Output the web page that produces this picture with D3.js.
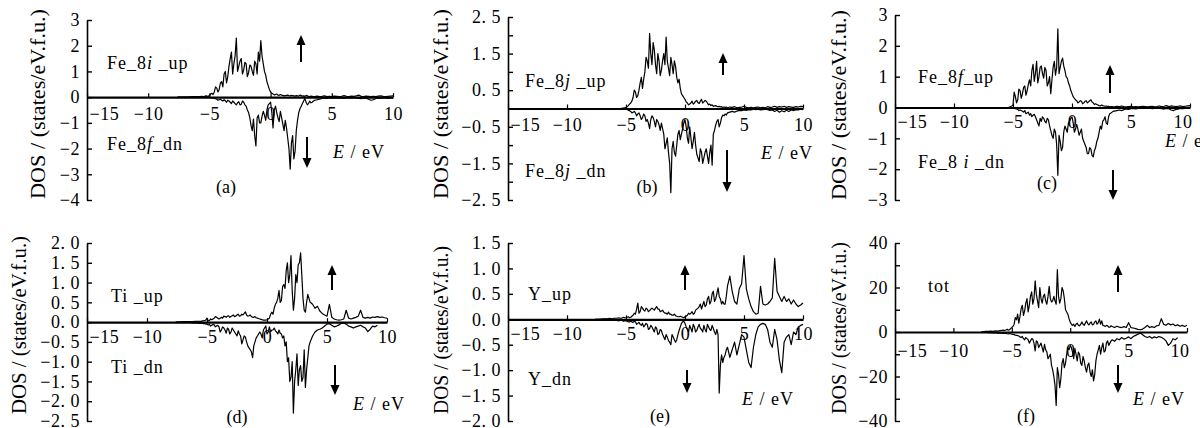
<!DOCTYPE html>
<html>
<head>
<meta charset="utf-8">
<script src="https://cdn.jsdelivr.net/npm/d3@7"></script>
<style>
body { margin: 0; background: #fff; }
svg text { font-family: "Liberation Serif", "Times New Roman", "DejaVu Serif", serif; fill: #000; }
</style>
</head>
<body>
<svg id="chart" width="1200" height="428" font-family="Liberation Serif, Times New Roman, serif"></svg>
<script>
// energy grid (eV): 0.2 steps outside, 0.1 steps in the busy band
const energy = [
  -7.6,-7.4,-7.2,-7,-6.8,-6.6,-6.4,-6.2,-6,-5.8,-5.6,
  -5.5,-5.4,-5.3,-5.2,-5.1,-5,-4.9,-4.8,-4.7,-4.6,
  -4.5,-4.4,-4.3,-4.2,-4.1,-4,-3.9,-3.8,-3.7,-3.6,
  -3.5,-3.4,-3.3,-3.2,-3.1,-3,-2.9,-2.8,-2.7,-2.6,
  -2.5,-2.4,-2.3,-2.2,-2.1,-2,-1.9,-1.8,-1.7,-1.6,
  -1.5,-1.4,-1.3,-1.2,-1.1,-1,-0.9,-0.8,-0.7,-0.6,
  -0.5,-0.4,-0.3,-0.2,-0.1,0,0.1,0.2,0.3,0.4,
  0.5,0.6,0.7,0.8,0.9,1,1.1,1.2,1.3,1.4,
  1.5,1.6,1.7,1.8,1.9,2,2.1,2.2,2.3,2.4,
  2.5,2.6,2.7,2.8,2.9,3,3.1,3.2,3.3,3.4,
  3.5,3.6,3.8,4,4.2,
  4.4,4.6,4.8,5,5.2,5.4,5.6,5.8,6,6.2,
  6.4,6.6,6.8,7,7.2,7.4,7.6,7.8,8,8.2,
  8.4,8.6,8.8,9,9.2,9.4,9.6,9.8,10
];

// (a)
const fe8iUp = [
  0,0,0,0,0,0.01,0.02,0.02,0.02,0.02,0.03,
  0.02,0.03,0.05,0.04,0.03,0.06,0.12,0.15,0.1,0.2,
  0.4,0.35,0.2,0.3,0.55,0.6,0.4,0.9,1.0,0.55,
  0.8,1.2,1.5,1.75,0.9,1.3,1.6,2.3,1.0,1.2,
  1.4,1.5,0.9,1.05,1.35,1.3,0.8,0.95,1.25,1.2,
  1.0,0.85,1.4,1.3,0.9,1.75,1.4,2.2,1.6,1.3,
  1.0,0.85,0.6,0.45,0.3,0.2,0.15,0.12,0.09,0.1,
  0.12,0.08,0.07,0.1,0.08,0.07,0.05,0.06,0.07,0.08,
  0.06,0.05,0.07,0.06,0.05,0.04,0.06,0.05,0.04,0.08,
  0.06,0.04,0.05,0.03,0.07,0.05,0.03,0.02,0.04,0.03,
  0.02,0.02,0.04,0.02,0.03,
  0.05,0.02,0.03,0.02,0.04,0.03,0.02,0.03,0.06,0.03,
  0.02,0.04,0.03,0.05,0.08,0.03,0.02,0.04,0.03,0.02,
  0.03,0.02,0.04,0.05,0.03,0.02,0.03,0.04,0.05
];
const fe8fDn = [
  0,0,0,0,0,0,0,0,0,0,0,
  0,0,0,0,0,-0.01,-0.02,-0.03,-0.04,-0.05,
  -0.06,-0.08,-0.12,-0.1,-0.08,-0.12,-0.15,-0.1,-0.14,-0.2,
  -0.12,-0.15,-0.2,-0.25,-0.15,-0.2,-0.25,-0.3,-0.22,-0.18,
  -0.3,-0.28,-0.15,-0.2,-0.3,-0.35,-0.5,-0.6,-0.8,-1.1,
  -1.3,-0.85,-1.5,-1.9,-0.8,-0.7,-1.0,-1.0,-0.75,-0.55,
  -0.7,-0.9,-0.5,-0.3,-0.25,-0.2,-0.6,-1.2,-0.5,-0.35,
  -0.6,-0.8,-0.95,-0.55,-0.8,-1.05,-1.3,-0.9,-1.2,-1.6,
  -2.0,-2.8,-1.8,-1.5,-2.4,-2.1,-1.3,-0.9,-0.6,-0.45,
  -0.35,-0.25,-0.15,-0.05,-0.2,-0.3,-0.25,-0.15,-0.22,-0.2,
  -0.15,-0.12,-0.1,-0.08,-0.05,
  -0.03,-0.05,-0.02,-0.04,-0.03,-0.02,-0.04,-0.03,-0.05,-0.02,
  -0.03,-0.04,-0.02,-0.03,-0.05,-0.06,-0.03,-0.04,-0.08,-0.12,
  -0.1,-0.05,-0.03,-0.04,-0.02,-0.03,-0.05,-0.02,-0.03
];

// (b)
const fe8jUp = [
  0,0,0,0,0,0,0,0,0,0,0,
  0,0,0.01,0.01,0.02,0.03,0.05,0.08,0.12,0.15,
  0.2,0.3,0.5,0.45,0.3,0.35,0.5,0.7,0.85,0.55,
  0.8,1.0,1.4,1.3,1.1,2.05,1.5,1.2,1.8,1.6,
  1.2,0.95,1.5,1.3,0.9,1.05,1.3,1.5,1.2,1.95,
  1.3,1.1,0.9,1.4,1.2,0.95,1.3,1.15,0.85,0.7,
  0.8,0.55,0.4,0.35,0.3,0.25,0.18,0.15,0.1,0.12,
  0.15,0.2,0.12,0.15,0.2,0.22,0.16,0.14,0.2,0.25,
  0.15,0.18,0.22,0.2,0.15,0.1,0.12,0.08,0.1,0.06,
  0.07,0.08,0.06,0.05,0.06,0.04,0.05,0.03,0.04,0.03,
  0.04,0.02,0.04,0.03,0.05,
  0.02,0.03,0.04,0.06,0.03,0.02,0.03,0.02,0.03,0.04,
  0.02,0.03,0.02,0.05,0.03,0.04,0.06,0.03,0.05,0.04,
  0.06,0.03,0.05,0.04,0.03,0.05,0.04,0.06,0.05
];
const fe8jDn = [
  0,0,0,0,0,0,0,0,0,0,0,
  0,0,0,0,-0.01,-0.02,-0.03,-0.05,-0.06,-0.08,
  -0.12,-0.1,-0.08,-0.12,-0.2,-0.15,-0.12,-0.2,-0.3,-0.25,
  -0.15,-0.2,-0.35,-0.3,-0.4,-0.55,-0.3,-0.2,-0.25,-0.35,
  -0.5,-0.3,-0.35,-0.45,-0.6,-0.4,-0.55,-0.7,-1.1,-0.95,
  -0.8,-1.2,-1.5,-2.3,-1.1,-0.9,-1.2,-1.3,-1.0,-0.7,
  -0.6,-0.85,-0.7,-0.55,-0.4,-0.3,-0.5,-0.8,-0.95,-0.5,
  -0.8,-1.1,-0.9,-0.65,-1.0,-1.25,-1.35,-1.45,-1.1,-1.2,
  -1.5,-1.35,-1.2,-1.1,-1.3,-1.5,-1.2,-1.0,-1.55,-0.7,
  -0.6,-0.45,-0.35,-0.3,-0.5,-0.4,-0.25,-0.18,-0.2,-0.15,
  -0.18,-0.12,-0.1,-0.08,-0.1,
  -0.07,-0.05,-0.06,-0.04,-0.05,-0.03,-0.04,-0.02,-0.03,-0.02,
  -0.04,-0.03,-0.02,-0.03,-0.05,-0.04,-0.08,-0.05,-0.1,-0.06,
  -0.09,-0.05,-0.08,-0.04,-0.06,-0.03,-0.04,-0.02,-0.03
];

// (c)
const fe8fUp = [
  0,0,0,0,0,0,0,0,0,0,0,
  0,0,0.01,0.03,0.05,0.08,0.5,0.35,0.15,0.25,
  0.6,0.55,0.3,0.45,0.65,0.7,0.4,0.55,0.75,0.9,
  0.7,1.2,1.4,0.85,1.1,1.5,0.8,1.0,1.3,1.35,
  1.1,0.95,1.3,1.2,0.7,0.8,1.0,0.45,0.9,1.3,
  1.5,1.05,1.3,2.55,1.1,1.3,1.5,1.6,1.35,1.2,
  1.0,0.95,0.8,0.7,0.55,0.45,0.35,0.3,0.25,0.22,
  0.15,0.18,0.22,0.2,0.12,0.15,0.2,0.22,0.15,0.18,
  0.22,0.25,0.18,0.15,0.1,0.12,0.1,0.08,0.06,0.05,
  0.08,0.06,0.05,0.04,0.05,0.03,0.04,0.02,0.03,0.03,
  0.02,0.02,0.04,0.03,0.05,
  0.03,0.02,0.03,0.04,0.02,0.03,0.02,0.03,0.04,0.03,
  0.02,0.03,0.04,0.02,0.03,0.05,0.03,0.04,0.06,0.03,
  0.05,0.04,0.03,0.04,0.05,0.03,0.04,0.05,0.06
];
const fe8iDn = [
  0,0,0,0,0,0,0,0,0,0,0,
  0,0,0,0,-0.01,-0.02,-0.03,-0.04,-0.05,-0.06,
  -0.1,-0.08,-0.1,-0.12,-0.15,-0.1,-0.2,-0.18,-0.15,-0.25,
  -0.2,-0.3,-0.25,-0.22,-0.3,-0.4,-0.5,-0.6,-0.35,-0.45,
  -0.3,-0.35,-0.45,-0.5,-0.35,-0.4,-0.6,-0.75,-0.9,-1.0,
  -0.7,-0.8,-1.2,-2.2,-0.9,-1.1,-1.4,-1.3,-0.8,-0.6,
  -0.7,-0.8,-0.5,-0.45,-0.35,-0.3,-0.5,-0.8,-0.7,-0.55,
  -0.7,-0.9,-0.8,-0.7,-1.0,-1.1,-1.2,-1.3,-1.5,-1.5,
  -1.3,-1.35,-1.55,-1.6,-1.4,-1.3,-1.1,-1.0,-0.8,-0.6,
  -0.7,-0.45,-0.4,-0.3,-0.5,-0.55,-0.3,-0.2,-0.18,-0.15,
  -0.12,-0.12,-0.1,-0.08,-0.1,
  -0.07,-0.05,-0.06,-0.04,-0.03,-0.05,-0.03,-0.02,-0.03,-0.02,
  -0.03,-0.02,-0.04,-0.03,-0.02,-0.03,-0.04,-0.05,-0.03,-0.04,
  -0.08,-0.1,-0.06,-0.05,-0.03,-0.04,-0.03,-0.02,-0.03
];

// (d)
const tiUp = [
  0,0,0,0.01,0.01,0.01,0.01,0.01,0.02,0.02,0.02,
  0.02,0.03,0.03,0.04,0.05,0.1,0.03,0.04,0.08,0.06,
  0.08,0.1,0.14,0.12,0.1,0.08,0.1,0.12,0.1,0.15,
  0.14,0.12,0.15,0.16,0.12,0.14,0.16,0.18,0.14,0.15,
  0.18,0.2,0.15,0.16,0.2,0.18,0.22,0.26,0.18,0.15,
  0.16,0.18,0.14,0.12,0.12,0.14,0.11,0.1,0.09,0.08,
  0.07,0.06,0.05,0.05,0.05,0.06,0.08,0.1,0.2,0.25,
  0.2,0.35,0.45,0.5,0.6,0.8,0.5,0.55,0.9,0.95,
  0.85,1.3,1.5,1.0,1.2,1.68,0.8,0.3,0.6,1.2,
  1.0,1.45,1.5,1.75,1.2,0.6,0.3,0.25,0.5,0.7,
  0.6,0.5,0.45,0.35,0.4,
  0.28,0.22,0.18,0.15,0.45,0.12,0.08,0.06,0.05,0.06,
  0.08,0.3,0.1,0.08,0.1,0.12,0.15,0.3,0.12,0.1,
  0.12,0.1,0.13,0.12,0.14,0.12,0.13,0.11,0.1
];
const tiDn = [
  0,0,0,0,-0.01,-0.01,-0.01,-0.02,-0.02,-0.02,-0.03,
  -0.03,-0.03,-0.04,-0.04,-0.05,-0.05,-0.07,-0.06,-0.1,-0.08,
  -0.06,-0.07,-0.12,-0.1,-0.08,-0.12,-0.25,-0.2,-0.12,-0.15,
  -0.2,-0.28,-0.15,-0.18,-0.3,-0.25,-0.15,-0.2,-0.25,-0.3,
  -0.35,-0.22,-0.3,-0.35,-0.55,-0.45,-0.35,-0.38,-0.5,-0.6,
  -0.65,-0.7,-0.75,-0.9,-0.6,-0.5,-0.4,-0.35,-0.3,-0.25,
  -0.3,-0.4,-0.2,-0.15,-0.1,-0.3,-0.25,-0.12,-0.25,-0.2,
  -0.2,-0.15,-0.22,-0.25,-0.3,-0.2,-0.28,-0.3,-0.4,-0.35,
  -0.6,-0.5,-1.0,-0.9,-1.5,-1.4,-1.0,-2.3,-1.5,-1.2,
  -0.8,-1.6,-1.2,-1.1,-1.5,-1.4,-0.7,-1.65,-1.2,-0.9,
  -0.6,-0.5,-0.35,-0.25,-0.2,
  -0.18,-0.15,-0.1,-0.05,-0.04,-0.08,-0.12,-0.1,-0.07,-0.03,
  -0.02,-0.05,-0.1,-0.12,-0.15,-0.12,-0.1,-0.08,-0.12,-0.15,
  -0.24,-0.18,-0.1,-0.12,-0.08,null,null,null,null
];

// (e)
const yUp = [
  0,0,0,0.01,0.01,0.01,0.02,0.01,0.02,0.02,0.03,
  0.02,0.02,0.03,0.04,0.03,0.03,0.04,0.05,0.03,0.04,
  0.06,0.08,0.12,0.1,0.2,0.32,0.12,0.15,0.25,0.22,
  0.18,0.16,0.22,0.2,0.15,0.17,0.2,0.22,0.2,0.18,
  0.22,0.25,0.2,0.2,0.15,0.16,0.18,0.14,0.12,0.12,
  0.1,0.14,0.1,0.1,0.08,0.08,0.1,0.07,0.06,0.05,
  0.05,0.06,0.05,0.04,0.03,0.05,0.06,0.08,0.12,0.1,
  0.12,0.15,0.1,0.12,0.18,0.2,0.22,0.25,0.3,0.2,
  0.28,0.35,0.25,0.28,0.4,0.45,0.3,0.35,0.5,0.55,
  0.35,0.4,0.5,0.62,0.45,0.4,0.3,0.35,0.3,0.3,
  0.45,0.65,0.85,0.55,0.35,
  0.3,0.6,0.7,1.25,0.6,0.4,0.25,0.15,0.1,0.12,
  0.65,0.3,0.28,0.3,0.35,0.42,1.2,0.55,0.45,0.35,
  0.45,0.35,0.4,0.3,0.38,0.3,0.25,0.28,0.32
];
const yDn = [
  0,0,0,0,0,0,-0.01,-0.01,-0.02,-0.02,-0.03,
  -0.02,-0.02,-0.03,-0.04,-0.03,-0.03,-0.04,-0.05,-0.05,-0.04,
  -0.05,-0.06,-0.04,-0.05,-0.1,-0.08,-0.06,-0.1,-0.12,-0.08,
  -0.15,-0.12,-0.08,-0.1,-0.2,-0.18,-0.12,-0.15,-0.2,-0.25,
  -0.15,-0.18,-0.3,-0.28,-0.2,-0.22,-0.3,-0.35,-0.4,-0.3,
  -0.35,-0.42,-0.45,-0.5,-0.3,-0.35,-0.4,-0.45,-0.4,-0.3,
  -0.22,-0.15,-0.08,-0.05,-0.04,-0.08,-0.15,-0.2,-0.25,-0.12,
  -0.18,-0.25,-0.1,-0.15,-0.25,-0.22,-0.15,-0.1,-0.18,-0.2,
  -0.25,-0.12,-0.2,-0.25,-0.1,-0.15,-0.2,-0.22,-0.12,-0.18,
  -0.25,-0.3,-0.2,-0.3,-1.45,-0.9,-0.7,-0.85,-0.75,-0.7,
  -0.6,-0.55,-0.75,-0.6,-0.45,
  -0.7,-0.5,-0.3,-0.35,-0.6,-0.85,-0.95,-0.55,-0.3,-0.15,
  -0.1,-0.08,-0.1,-0.2,-0.45,-0.55,-0.2,-0.4,-0.8,-1.05,
  -0.45,-0.35,-0.3,-0.5,-0.25,-0.3,-0.15,-0.12,-0.1
];

// (f)
const totUp = [
  0.1,0.2,0.3,0.3,0.4,0.3,0.5,0.4,0.6,0.8,0.7,
  0.9,1.2,0.8,1.0,1.5,2.0,2.5,3.5,6.5,5.5,
  8,4.0,7,10.5,12,7.5,9.5,13,15,9,
  12,16,18,12.5,15,23,17,14,11,20,
  15,13,16,17,14,12.5,16,20.5,15,13.5,
  14,16,14,12.5,28,16,13,15,20,18.5,
  15,10,9,8,6,4.5,3.5,3,3.5,2.5,
  3.5,4,3,2.8,3.5,4.5,3.5,3,4,5,
  3.8,3.2,4,4.5,3.2,3.5,4.5,5,3.5,4.2,
  5.8,3.5,5,3,2.8,2.5,3,2.8,2.2,2.2,
  2.8,2.5,2,2.6,2.2,
  2,2.4,2,4.2,2,1.8,1.5,1.2,1,1.3,
  2,3,2,2.4,2,2.8,3,6,3.5,3,
  3.8,3.2,3.6,2.8,3.2,2.6,3,2.5,3
];
const totDn = [
  -0.1,-0.2,-0.2,-0.3,-0.3,-0.4,-0.3,-0.5,-0.4,-0.6,-0.5,
  -0.6,-0.8,-0.9,-0.7,-0.8,-1.0,-1.1,-1.2,-1.4,-1.5,
  -1.6,-1.8,-2.2,-2.5,-2.0,-3.0,-3.5,-2.5,-3.0,-3.5,
  -5,-4.0,-3.0,-3.2,-5,-8.5,-4,-4.5,-7,-6.0,
  -5,-7.0,-9,-5.5,-8,-9.0,-12,-11,-10,-15,
  -17,-20,-24,-33,-16,-19,-25,-21,-14,-12,
  -16,-14,-10,-7,-8,-6,-7,-9,-12,-7.5,
  -10,-13,-9,-10,-14,-15,-11,-13,-16,-18,
  -15,-14,-18,-20,-17,-22,-19,-13,-10,-8,
  -6,-10,-7,-5,-9,-8.5,-5,-4,-6,-5,
  -4,-3.5,-4.2,-3,-3.5,
  -2.5,-3.2,-2.8,-2.2,-3,-2,-1.5,-1,-0.5,-1.2,
  -2,-2.5,-2,-2.8,-2.2,-2.6,-2,-2.4,-3,-4,
  -6,-5,-3,-3.5,-2.5,null,null,null,null
];

// axis ticks
const xTicks = [-15, -10, -5, 0, 5, 10];
const yTicksA = [-4, -3, -2, -1, 0, 1, 2, 3];
const yTicksB = [-2.5, -2, -1.5, -1, -0.5, 0, 0.5, 1, 1.5, 2, 2.5];
const yLabelsB = [-2.5, -1.5, -0.5, 0.5, 1.5, 2.5];
const yTicksC = [-3, -2, -1, 0, 1, 2, 3];
const yTicksD = [-2.5, -2, -1.5, -1, -0.5, 0, 0.5, 1, 1.5, 2];
const yTicksE = [-2, -1.5, -1, -0.5, 0, 0.5, 1, 1.5];
const yTicksF = [-40, -30, -20, -10, 0, 10, 20, 30, 40];
const yLabelsF = [-40, -20, 0, 20, 40];

const intFmt = d3.format("d");
const decFmt = v => d3.format(".1f")(v).replace(".", ". ");
const serif = "Liberation Serif, Times New Roman, serif";

const panels = [
  {up: fe8iUp, dn: fe8fDn, x0: 87, x1: 393, yTop: 20, yBot: 200, yDom: [-4, 3],
   yTicks: yTicksA, yLabels: yTicksA, fmt: intFmt, xPad: 10, endLabel: false,
   upText: [["Fe_8", 0], ["i", 1], [" _up", 0]], upPos: [107, 69],
   dnText: [["Fe_8", 0], ["f", 1], ["_dn", 0]], dnPos: [107, 150],
   ePos: [333, 158], tag: "(a)", tagPos: [226, 193],
   upArrow: [301, 62, 35], dnArrow: [307, 137, 168], title: [38, 104, 190]},
  {up: fe8jUp, dn: fe8jDn, x0: 508, x1: 803, yTop: 17, yBot: 200, yDom: [-2.5, 2.5],
   yTicks: yTicksB, yLabels: yLabelsB, fmt: decFmt, xPad: 10, endLabel: false,
   upText: [["Fe_8", 0], ["j", 1], [" _up", 0]], upPos: [525, 87],
   dnText: [["Fe_8", 0], ["j", 1], [" _dn", 0]], dnPos: [525, 177],
   ePos: [761, 159], tag: "(b)", tagPos: [647, 193],
   upArrow: [723, 75, 53], dnArrow: [727, 150, 192], title: [441, 104, 190]},
  {up: fe8fUp, dn: fe8iDn, x0: 895, x1: 1190, yTop: 15, yBot: 200, yDom: [-3, 3],
   yTicks: yTicksC, yLabels: yTicksC, fmt: intFmt, xPad: 8, endLabel: true,
   upText: [["Fe_8", 0], ["f", 1], ["_up", 0]], upPos: [918, 83],
   dnText: [["Fe_8 ", 0], ["i", 1], [" _dn", 0]], dnPos: [918, 168],
   ePos: [1165, 147], tag: "(c)", tagPos: [1047, 189],
   upArrow: [1110, 93, 65], dnArrow: [1113, 170, 200], title: [839, 105, 190]},
  {up: tiUp, dn: tiDn, x0: 87, x1: 387, yTop: 243, yBot: 421, yDom: [-2.5, 2],
   yTicks: yTicksD, yLabels: yTicksD, fmt: decFmt, xPad: 8, endLabel: false,
   upText: [["Ti _up", 0]], upPos: [111, 302],
   dnText: [["Ti _dn", 0]], dnPos: [111, 373],
   ePos: [353, 410], tag: "(d)", tagPos: [237, 423],
   upArrow: [332, 290, 265], dnArrow: [335, 365, 395], title: [19, 325, 178]},
  {up: yUp, dn: yDn, x0: 508, x1: 803, yTop: 243, yBot: 421, yDom: [-2, 1.5],
   yTicks: yTicksE, yLabels: yTicksE, fmt: decFmt, xPad: 8, endLabel: false,
   upText: [["Y_up", 0]], upPos: [528, 300],
   dnText: [["Y_dn", 0]], dnPos: [528, 385],
   ePos: [742, 405], tag: "(e)", tagPos: [660, 422],
   upArrow: [685, 290, 265], dnArrow: [687, 370, 393], title: [441, 330, 168]},
  {up: totUp, dn: totDn, x0: 895, x1: 1187, yTop: 243, yBot: 421, yDom: [-40, 40],
   yTicks: yTicksF, yLabels: yLabelsF, fmt: intFmt, xPad: 12, endLabel: true,
   upText: [["tot", 0]], upPos: [928, 292],
   dnText: null, dnPos: null,
   ePos: [1133, 405], tag: "(f)", tagPos: [1026, 422],
   upArrow: [1118, 292, 265], dnArrow: [1118, 365, 393], title: [839, 328, 172]}
];

const svg = d3.select("#chart");

function addText(g, parts, pos) {
  const t = g.append("text")
    .attr("x", pos[0]).attr("y", pos[1])
    .attr("font-family", serif)
    .attr("font-size", 18)
    .attr("letter-spacing", 1);
  parts.forEach(p => {
    t.append("tspan")
      .attr("font-style", p[1] ? "italic" : null)
      .text(p[0]);
  });
}

function arrow(g, x, yFrom, yTo) {
  const dir = yTo < yFrom ? -1 : 1;
  const head = 10;
  g.append("line")
    .attr("x1", x).attr("x2", x)
    .attr("y1", yFrom).attr("y2", yTo - dir * (head - 1))
    .attr("stroke", "#000").attr("stroke-width", 2);
  g.append("path")
    .attr("d", `M${x},${yTo} L${x - 4.5},${yTo - dir * head} L${x + 4.5},${yTo - dir * head} Z`)
    .attr("fill", "#000");
}

panels.forEach(p => {
  const g = svg.append("g");

  const x = d3.scaleLinear().domain([-15, 10]).range([p.x0, p.x1]);
  const y = d3.scaleLinear().domain(p.yDom).range([p.yBot, p.yTop]);

  // curves
  const line = d3.line()
    .defined(d => d[1] != null)
    .x(d => x(d[0]))
    .y(d => y(d[1]));

  [p.dn, p.up].forEach(series => {
    g.append("path")
      .datum(energy.map((e, i) => [e, series[i]]))
      .attr("fill", "none")
      .attr("stroke", "#000")
      .attr("stroke-width", 1.2)
      .attr("stroke-linejoin", "round")
      .attr("d", line);
  });

  // y axis, ticks pointing inwards
  const yAxis = d3.axisLeft(y)
    .tickValues(p.yTicks)
    .tickSize(-5)
    .tickSizeOuter(0)
    .tickPadding(7)
    .tickFormat(v => p.yLabels.includes(v) ? p.fmt(v) : "");
  const ya = g.append("g")
    .attr("transform", `translate(${p.x0},0)`)
    .call(yAxis)
    .attr("font-family", serif);
  ya.select(".domain").attr("stroke-width", 1.6);
  ya.selectAll(".tick line").attr("stroke-width", 1.4);
  ya.selectAll("text")
    .attr("font-size", 18)
    .attr("letter-spacing", 0.5);

  // x axis on the zero line
  const xAxis = d3.axisBottom(x)
    .tickValues(xTicks)
    .tickSize(-4)
    .tickSizeOuter(0)
    .tickPadding(p.xPad)
    .tickFormat(intFmt);
  const xa = g.append("g")
    .attr("transform", `translate(0,${y(0)})`)
    .call(xAxis)
    .attr("font-family", serif);
  xa.select(".domain").attr("stroke-width", 2.2);
  xa.selectAll(".tick line").attr("stroke-width", 1.2);
  xa.selectAll("text")
    .attr("font-size", 18)
    .attr("letter-spacing", 0.5);
  xa.selectAll(".tick").filter(d => d === -15).select("text")
    .attr("text-anchor", "start")
    .attr("x", 2);
  if (p.endLabel) {
    xa.selectAll(".tick").filter(d => d === 10).select("text")
      .attr("text-anchor", "end")
      .attr("x", 2);
  }

  // y title
  g.append("text")
    .attr("transform", `translate(${p.title[0]},${p.title[1]}) rotate(-90)`)
    .attr("text-anchor", "middle")
    .attr("dominant-baseline", "central")
    .attr("font-family", serif)
    .attr("font-size", 20)
    .attr("textLength", p.title[2])
    .attr("lengthAdjust", "spacingAndGlyphs")
    .text("DOS / (states/eV.f.u.)");

  // labels
  addText(g, p.upText, p.upPos);
  if (p.dnText) addText(g, p.dnText, p.dnPos);
  addText(g, [["E", 1], [" / eV", 0]], p.ePos);
  g.append("text")
    .attr("x", p.tagPos[0]).attr("y", p.tagPos[1])
    .attr("text-anchor", "middle")
    .attr("font-family", serif)
    .attr("font-size", 18)
    .text(p.tag);

  arrow(g, p.upArrow[0], p.upArrow[1], p.upArrow[2]);
  arrow(g, p.dnArrow[0], p.dnArrow[1], p.dnArrow[2]);
});
</script>
</body>
</html>
